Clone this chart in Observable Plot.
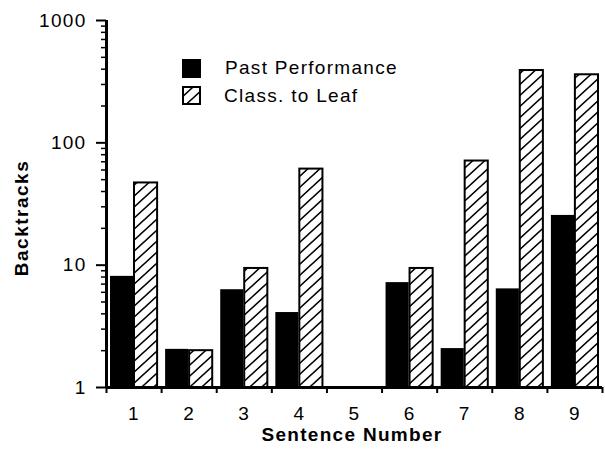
<!DOCTYPE html>
<html><head><meta charset="utf-8">
<script src="https://cdn.jsdelivr.net/npm/d3@7"></script>
<script src="https://cdn.jsdelivr.net/npm/@observablehq/plot@0.6"></script>
<style>
body{margin:0;background:#fff}
svg text{font-family:"Liberation Sans",Arial,Helvetica,sans-serif;}
</style>
</head><body><div id="chart"></div>
<script>
const sentences = [1, 2, 3, 4, 5, 6, 7, 8, 9];
const pastPerformance = [8.1, 2.05, 6.3, 4.1, null, 7.2, 2.08, 6.4, 25.5];
const classToLeaf = [47, 2.0, 9.4, 61, null, 9.4, 71, 390, 360];
const seriesNames = ["Past Performance", "Class. to Leaf"];
const yTickLabels = [1, 10, 100, 1000];
const xTitle = "Sentence Number";
const yTitle = "Backtracks";

const past = sentences.map((s, i) => ({s, v: pastPerformance[i]})).filter(d => d.v != null);
const leaf = sentences.map((s, i) => ({s, v: classToLeaf[i]})).filter(d => d.v != null);
const xBounds = sentences.map(s => s - 0.5).concat([sentences[sentences.length - 1] + 0.5]);
const yMinor = [];
for (const dec of [1, 10, 100]) for (let k = 2; k <= 9; k++) yMinor.push(k * dec);

const plot = Plot.plot({
  width: 605, height: 452,
  marginLeft: 106, marginRight: 3, marginTop: 20, marginBottom: 65,
  style: {fontSize: "19px", fontFamily: "Liberation Sans, Arial, sans-serif", color: "black", background: "white"},
  x: {domain: [0.5, 9.5]},
  y: {type: "log", domain: [1, 1000]},
  marks: [
    Plot.rectY(past, {x1: d => d.s - 0.5, x2: d => d.s + 0.5, y1: 1, y2: "v", insetLeft: 4, insetRight: 28, fill: "black"}),
    Plot.rectY(leaf, {x1: d => d.s - 0.5, x2: d => d.s + 0.5, y1: 1, y2: "v", insetLeft: 28, insetRight: 4, fill: "url(#hatch)", stroke: "black", strokeWidth: 2}),
    Plot.axisY({ticks: yMinor, tickSize: 5, tickFormat: () => "", strokeWidth: 1.5, label: null}),
    Plot.axisY({ticks: yTickLabels, tickSize: 10, tickPadding: 10, tickFormat: d => String(d), strokeWidth: 2, label: null, fontSize: 19}),
    Plot.axisX({ticks: xBounds, tickSize: 6, tickFormat: () => "", strokeWidth: 2, label: null}),
    Plot.axisX({ticks: sentences, tickSize: 0, tickPadding: 19, tickFormat: d => String(d), label: null, fontSize: 19}),
    Plot.ruleX([0.5], {strokeWidth: 3}),
    Plot.ruleY([1], {strokeWidth: 3})
  ]
});

const svg = d3.select(plot);
const defs = svg.insert("defs", ":first-child");
const pat = defs.append("pattern").attr("id", "hatch").attr("patternUnits", "userSpaceOnUse")
  .attr("width", 12).attr("height", 11);
pat.append("rect").attr("width", 12).attr("height", 11).attr("fill", "white");
pat.append("path").attr("d", "M-3,2.75 L3,-2.75 M0,11 L12,0 M9,13.75 L15,8.25").attr("stroke", "black").attr("stroke-width", 1.6);

svg.selectAll("text").style("letter-spacing", "1.3px");

// axis titles
svg.append("text").attr("x", 352).attr("y", 441).attr("text-anchor", "middle")
  .attr("font-weight", "bold").attr("font-size", 19).style("letter-spacing", "1.3px").text(xTitle);
svg.append("text").attr("transform", "translate(28,218) rotate(-90)").attr("text-anchor", "middle")
  .attr("font-weight", "bold").attr("font-size", 19).style("letter-spacing", "1.5px").text(yTitle);

// legend
const lg = svg.append("g").attr("text-anchor", "start");
lg.append("rect").attr("x", 182).attr("y", 59).attr("width", 19).attr("height", 19).attr("fill", "black");
lg.append("rect").attr("x", 183).attr("y", 87).attr("width", 17).attr("height", 17).attr("fill", "url(#hatch)").attr("stroke", "black").attr("stroke-width", 2);
lg.append("text").attr("x", 225).attr("y", 74).attr("text-anchor", "start").attr("font-size", 19).style("letter-spacing", "1.3px").text(seriesNames[0]);
lg.append("text").attr("x", 224).attr("y", 102).attr("text-anchor", "start").attr("font-size", 19).style("letter-spacing", "1.3px").text(seriesNames[1]);

document.getElementById("chart").appendChild(plot);
</script>
</body></html>
